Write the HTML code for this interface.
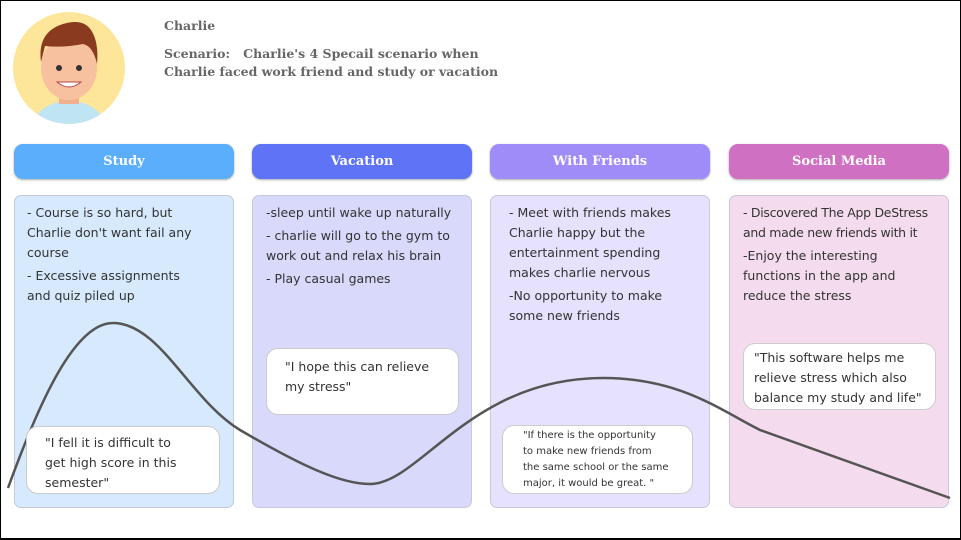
<!DOCTYPE html>
<html><head><meta charset="utf-8"><style>
body{margin:0;width:961px;height:540px;background:#fff;position:relative;overflow:hidden;font-family:"DejaVu Sans","Liberation Sans",sans-serif}
.frame{position:absolute;left:0;top:0;width:959px;height:537px;border:1px solid #000;border-bottom:2px solid #000}
.h{position:absolute;top:144px;width:220px;height:35px;border-radius:9px;color:#fff;font-family:"DejaVu Serif","Liberation Serif",serif;font-weight:bold;font-size:13px;text-align:center;line-height:35px;box-shadow:0 1px 2px #aaa}
.b{position:absolute;top:195px;width:220px;height:313px;border-radius:7px;border:1px solid #c8c8dc;box-sizing:border-box;font-size:12.5px;color:#333;line-height:20px;padding:7px 10px;white-space:nowrap}
.b p{margin:0 0 3px}
.q{position:absolute;background:#fff;border:1px solid #ccc;border-radius:12px;box-sizing:border-box;font-size:12.5px;color:#333;line-height:20px;padding:6px 18px;white-space:nowrap}
.t{position:absolute;font-family:"DejaVu Serif","Liberation Serif",serif;font-weight:bold;font-size:12.5px;color:#666}
</style></head><body>
<div class="frame"></div>
<svg style="position:absolute;left:13px;top:12px" width="112" height="112" viewBox="0 0 112 112">
<defs><clipPath id="c"><circle cx="56" cy="56" r="56"/></clipPath></defs>
<circle cx="56" cy="56" r="56" fill="#fde59a"/>
<g clip-path="url(#c)">
<path d="M20 112 Q25 92 56 88 Q87 92 92 112Z" fill="#bfe4f3"/>
<rect x="46" y="72" width="20" height="20" fill="#f2b08e"/>
<ellipse cx="56" cy="56" rx="28" ry="32" fill="#f7c1a0"/>
<path d="M28 50 Q24 20 50 12 Q70 6 78 18 Q86 30 84 52 Q80 34 70 32 Q50 36 32 34Z" fill="#8a3a1e"/>
<circle cx="46" cy="56" r="3" fill="#333"/><circle cx="66" cy="56" r="3" fill="#333"/>
<path d="M44 70 Q56 80 68 70Z" fill="#fff" stroke="#b44" stroke-width="1"/>
</g></svg>
<div class="t" style="left:164px;top:18px">Charlie</div>
<div class="t" style="left:164px;top:45px;line-height:18px">Scenario:&nbsp;&nbsp; Charlie's 4 Specail scenario when<br>Charlie faced work friend and study or vacation</div>

<div class="h" style="left:14px;background:#5aaefc">Study</div>
<div class="h" style="left:252px;background:#5e73f5">Vacation</div>
<div class="h" style="left:490px;background:#a08cf8">With Friends</div>
<div class="h" style="left:729px;background:#d070c3">Social Media</div>

<div class="b" style="left:14px;background:#d6e9fd;padding-left:12px"><p>- Course is so hard, but<br>Charlie don't want fail any<br>course</p><p>- Excessive assignments<br>and quiz piled up</p></div>
<div class="b" style="left:252px;background:#d8d9fb;padding-left:13px"><p>-sleep until wake up naturally</p><p>- charlie will go to the gym to<br>work out and relax his brain</p><p>- Play casual games</p></div>
<div class="b" style="left:490px;background:#e6e1fc;padding-left:18px"><p>- Meet with friends makes<br>Charlie happy but the<br>entertainment spending<br>makes charlie nervous</p><p>-No opportunity to make<br>some new friends</p></div>
<div class="b" style="left:729px;background:#f4dcee;padding-left:13px;padding-right:0"><p style="letter-spacing:-0.3px">- Discovered The App DeStress<br>and made new friends with it</p><p>-Enjoy the interesting<br>functions in the app and<br>reduce the stress</p></div>

<svg style="position:absolute;left:0;top:0" width="961" height="540">
<path d="M8 488 C40 400 75 323 113 323 C160 323 190 400 240 430 C300 465 340 484 370 484 C420 484 470 378 603 378 C680 378 720 410 760 430 L950 498" fill="none" stroke="#555" stroke-width="2.5"/>
</svg>

<div class="q" style="left:26px;top:426px;width:194px;height:68px">"I fell it is difficult to<br>get high score in this<br>semester"</div>
<div class="q" style="left:266px;top:348px;width:193px;height:67px;padding-top:8px">"I hope this can relieve<br>my stress"</div>
<div class="q" style="left:502px;top:425px;width:191px;height:69px;font-size:10px;line-height:16px;padding:2px 12px 0 20px">"If there is the opportunity<br>to make new friends from<br>the same school or the same<br>major, it would be great. "</div>
<div class="q" style="left:743px;top:343px;width:193px;height:67px;padding:4px 8px 0 10px">"This software helps me<br>relieve stress which also<br>balance my study and life"</div>
</body></html>
